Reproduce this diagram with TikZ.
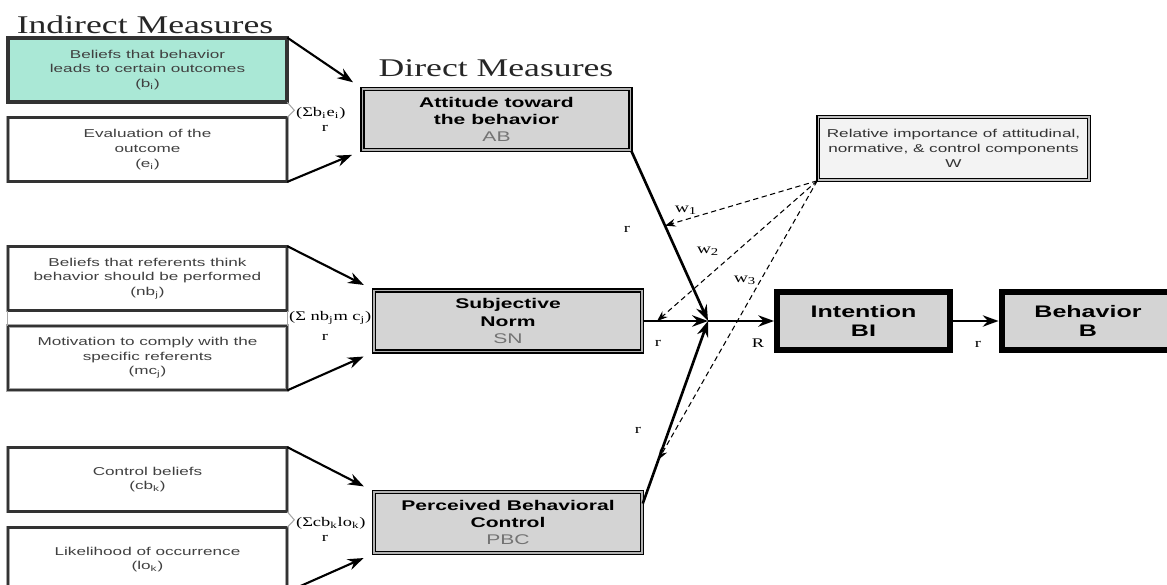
\documentclass[tikz,border=0pt]{standalone}
\usepackage{fontspec}
\setmainfont{Liberation Serif}
\newfontfamily\boxfont[FakeStretch=1.5]{Liberation Sans}
\newfontfamily\headfont[FakeStretch=1.4]{Liberation Serif}
\usetikzlibrary{arrows.meta}
\definecolor{beliefgreen}{RGB}{170,232,214}
\definecolor{boxgray}{RGB}{212,212,212}
\definecolor{wgray}{RGB}{243,243,243}

\begin{document}
\begin{tikzpicture}[x=0.02cm, y=-0.02cm,
    every node/.style={inner sep=1pt},
    indbox/.style={draw=gray!70, double=black!80, double distance=1.3pt,
      line width=0.4pt, fill=white, minimum width=5.58cm,
      minimum height=1.28cm, align=center, text=black!75,
      font=\boxfont\fontsize{6.5}{8.3}\selectfont},
    dirbox/.style={draw=black, double=gray!60, double distance=0.7pt,
      line width=0.9pt, fill=boxgray, minimum width=5.36cm,
      minimum height=1.22cm, align=center,
      font=\boxfont\bfseries\fontsize{8}{9.9}\selectfont},
    outbox/.style={draw=black, line width=3.4pt, fill=boxgray,
      minimum width=3.46cm, minimum height=1.16cm, align=center,
      font=\boxfont\bfseries\fontsize{9.5}{10.8}\selectfont},
    wbox/.style={draw=black, double=gray!50, double distance=0.6pt,
      line width=0.9pt, fill=wgray, minimum width=5.42cm,
      minimum height=1.26cm, align=center, text=black!80,
      font=\boxfont\fontsize{6.5}{8.5}\selectfont},
    heading/.style={font=\headfont\fontsize{14.5}{16}\selectfont, text=black!85},
    lbl/.style={font=\headfont\fontsize{7.5}{8.5}\selectfont},
    wlbl/.style={font=\headfont\fontsize{8}{9}\selectfont},
    arr/.style={line width=1.2pt, shorten >=6pt,
      -{Stealth[length=9pt,width=6.5pt,inset=3pt]}},
    mainarr/.style={line width=1.5pt,
      -{Stealth[length=9pt,width=6.5pt,inset=3pt]}},
    warr/.style={line width=0.6pt, dash pattern=on 3pt off 2pt,
      -{Stealth[length=6pt,width=4.5pt,inset=2pt]}},
    notch/.style={draw=gray!70, line width=0.6pt}
  ]
  \useasboundingbox (0,0) rectangle (1167,585);
  % Draw headings
  \node[heading] (indirect) at (145,25) {Indirect Measures};
  \node[heading] (direct) at (496,68) {Direct Measures};
  % Draw indirect measures
  \node[indbox, fill=beliefgreen, double distance=2pt] (belief) at (147.5,70)
    {Beliefs that behavior\\leads to certain outcomes\\(b\textsubscript{i})};
  \node[indbox] (evaluation) at (147.5,149.5)
    {Evaluation of the\\outcome\\(e\textsubscript{i})};
  \node[indbox] (refbelief) at (147.5,278.5)
    {Beliefs that referents think\\behavior should be performed\\(nb\textsubscript{j})};
  \node[indbox] (motivation) at (147.5,358)
    {Motivation to comply with the\\specific referents\\(mc\textsubscript{j})};
  \node[indbox] (ctrlbelief) at (147.5,479.5)
    {Control beliefs\\(cb\textsubscript{k})};
  \node[indbox] (likelihood) at (147.5,559.5)
    {Likelihood of occurrence\\(lo\textsubscript{k})};
  \draw[notch] (belief.south east) -- ++(7,8) -- (evaluation.north east);
  \draw[notch] (refbelief.south east) -- (motivation.north east);
  \draw[notch] (refbelief.south west) -- (motivation.north west);
  \draw[notch] (ctrlbelief.south east) -- ++(7,8) -- (likelihood.north east);
  \node[lbl, anchor=west] (sum1) at (294,113) {(Σb\textsubscript{i}e\textsubscript{i})};
  \node[lbl, anchor=west] (sum2) at (287,318) {(Σ nb\textsubscript{j}m c\textsubscript{j})};
  \node[lbl, anchor=west] (sum3) at (294,523) {(Σcb\textsubscript{k}lo\textsubscript{k})};
  % Draw direct measures
  \node[dirbox] (attitude) at (496.5,119.5)
    {Attitude toward\\the behavior\\{\mdseries\color{black!55}AB}};
  \node[dirbox] (norm) at (508,321)
    {Subjective\\Norm\\{\mdseries\color{black!55}SN}};
  \node[dirbox] (control) at (508,522.5)
    {Perceived Behavioral\\Control\\{\mdseries\color{black!55}PBC}};
  % Draw intention, behavior and weights
  \node[outbox] (intention) at (863.5,321) {Intention\\BI};
  \node[outbox] (behavior) at (1088,321) {Behavior\\B};
  \node[wbox] (weight) at (953.5,148.5)
    {Relative importance of attitudinal,\\normative, \& control components\\W};
  % Arrows from indirect to direct measures
  \foreach \s/\t in {belief.north east/attitude.north west,
      evaluation.south east/attitude.south west,
      refbelief.north east/norm.north west,
      motivation.south east/norm.south west,
      ctrlbelief.north east/control.north west,
      likelihood.south east/control.south west}
    \draw[arr] (\s) -- (\t);
  % Arrows into intention
  \coordinate (j) at (708,321);
  \draw[mainarr] (attitude.south east) -- (j);
  \draw[mainarr] (norm.east) -- (j);
  \draw[mainarr] (control.8) -- (j);
  \draw[mainarr, line width=1.3pt] (j) -- (intention.west);
  \draw[mainarr, line width=1.3pt] (intention.east) -- (behavior.west);
  % Weights
  \path (attitude.south east) -- (j) coordinate[pos=0.44] (t1);
  \path (norm.east) -- (j) coordinate[pos=0.22] (t2);
  \path (control.8) -- (j) coordinate[pos=0.24] (t3);
  \foreach \t in {t1,t2,t3}
    \draw[warr] (weight.south west) -- (\t);
  \node[wlbl] (w1) at (686,210) {w\textsubscript{1}};
  \node[wlbl] (w2) at (708,251) {w\textsubscript{2}};
  \node[wlbl] (w3) at (745,280) {w\textsubscript{3}};
  % Correlation labels
  \foreach \x/\y [count=\i] in {325/128, 325/337, 325/538, 627/229,
      658/343, 638/430, 978/344}
    \node[lbl] (r\i) at (\x,\y) {r};
  \node[lbl] (bigr) at (758,343) {R};
\end{tikzpicture}
\end{document}
